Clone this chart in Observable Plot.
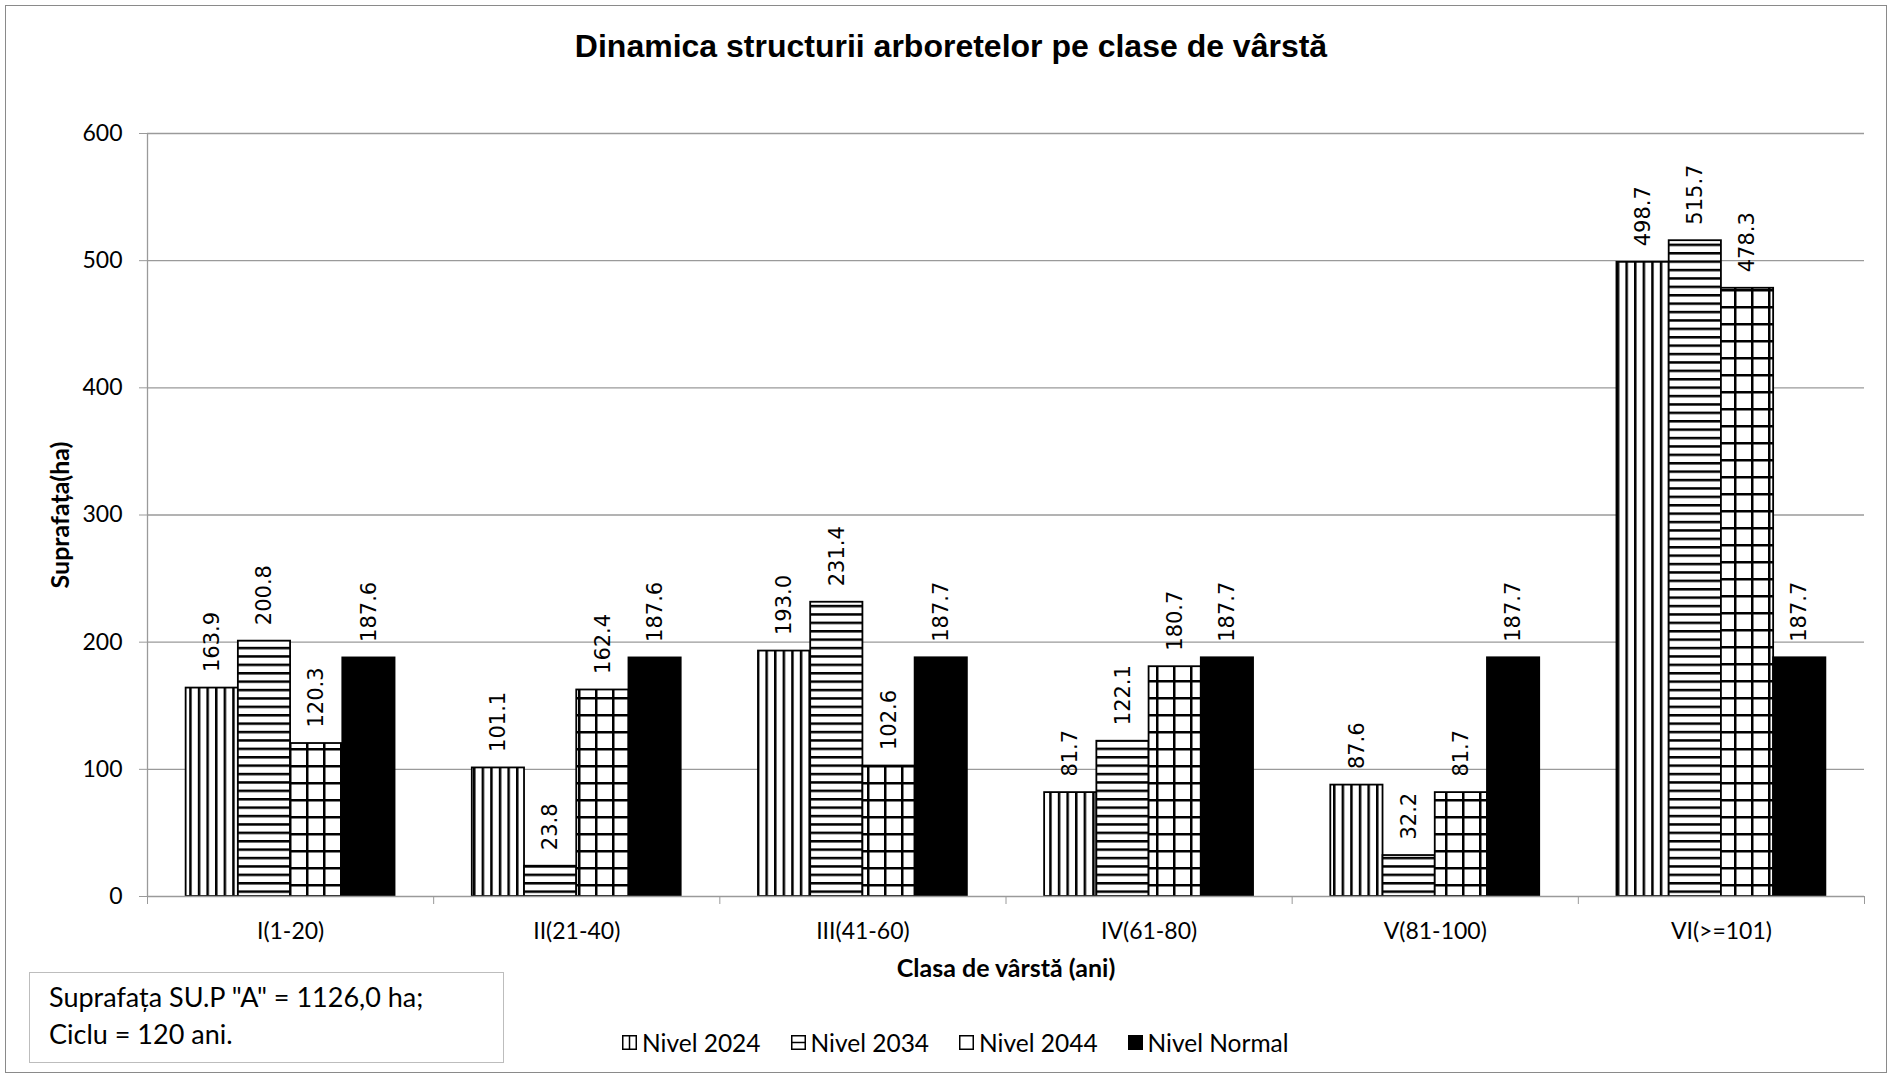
<!DOCTYPE html>
<html>
<head>
<meta charset="utf-8">
<script src="https://cdn.jsdelivr.net/npm/d3@7"></script>
<script src="https://cdn.jsdelivr.net/npm/@observablehq/plot@0.6"></script>
<style>
  body { margin: 0; background: #fff; }
  #page { position: relative; width: 1894px; height: 1079px; overflow: hidden; font-family: Lato, "Open Sans", sans-serif; color: #000; }
  #frame { position: absolute; left: 5px; top: 5px; width: 1880px; height: 1066px; border: 1.5px solid #8a8a8a; }
  #title { position: absolute; left: 4px; width: 1894px; top: 30px; text-align: center; font: bold 32px/32px "Liberation Sans Narrow", "Liberation Sans", Arial, sans-serif; }
  #chart { position: absolute; left: 0; top: 0; }
  #note { position: absolute; left: 29px; top: 972px; width: 475px; height: 91px; border: 1.5px solid #bdbdbd; box-sizing: border-box; padding: 5px 0 0 19px; font-size: 27px; line-height: 37px; background: #fff; }
  #legend { position: absolute; left: 622px; top: 1030px; display: flex; align-items: center; gap: 30px; font-size: 24.5px; line-height: 25px; }
  #legend .item { display: flex; align-items: center; gap: 5px; }
  #legend svg { display: block; }
</style>
</head>
<body>
<div id="page">
  <div id="frame"></div>
  <div id="title">Dinamica structurii arboretelor pe clase de vârstă</div>
  <div id="chart"></div>
  <div id="note">Suprafața SU.P "A" = 1126,0 ha;<br>Ciclu = 120 ani.</div>
  <div id="legend"></div>
</div>
<script>
const categories = ["I(1-20)", "II(21-40)", "III(41-60)", "IV(61-80)", "V(81-100)", "VI(>=101)"];
const seriesNames = ["Nivel 2024", "Nivel 2034", "Nivel 2044", "Nivel Normal"];
const nivel2024 = [163.9, 101.1, 193.0, 81.7, 87.6, 498.7];
const nivel2034 = [200.8, 23.8, 231.4, 122.1, 32.2, 515.7];
const nivel2044 = [120.3, 162.4, 102.6, 180.7, 81.7, 478.3];
const nivelNormal = [187.6, 187.6, 187.7, 187.7, 187.7, 187.7];
const yTicks = [0, 100, 200, 300, 400, 500, 600];
const seriesFills = ["url(#p2024)", "url(#p2034)", "url(#p2044)", "black"];

const seriesValues = [nivel2024, nivel2034, nivel2044, nivelNormal];
const groupPad = 0.135;
const barW = (1 - 2 * groupPad) / seriesNames.length;
const rows = [];
seriesValues.forEach((vals, j) => {
  vals.forEach((v, i) => {
    rows.push({
      category: categories[i], ci: i, series: seriesNames[j], sj: j, value: v,
      x1: i + groupPad + j * barW, x2: i + groupPad + (j + 1) * barW
    });
  });
});

const gray = "#9a9a9a";
const chart = Plot.plot({
  width: 1894,
  height: 1000,
  marginTop: 133,
  marginBottom: 104,
  marginLeft: 147,
  marginRight: 30,
  x: { domain: [0, categories.length] },
  y: { domain: [0, 600] },
  style: { fontFamily: "Lato, sans-serif", background: "transparent", color: "black" },
  marks: [
    Plot.ruleY(yTicks.filter(d => d > 0), { stroke: gray, strokeWidth: 1.3 }),
    ...seriesFills.map((f, j) => Plot.rectY(rows.filter(r => r.sj === j), {
      x1: "x1", x2: "x2", y: "value", fill: f, stroke: "black", strokeWidth: 1.8
    })),
    Plot.ruleY([0], { stroke: gray, strokeWidth: 1.3 }),
    Plot.ruleX([0], { stroke: gray, strokeWidth: 1.3 }),
    Plot.axisY({ ticks: yTicks, tickSize: 8, tickPadding: 17, stroke: gray, fill: "black", fontSize: 23, label: null }),
    Plot.axisX({ ticks: d3.range(categories.length + 1), tickSize: 8, tickFormat: () => "", stroke: gray, label: null }),
    Plot.axisX({ ticks: categories.map((c, i) => i + 0.5), tickSize: 0, tickPadding: 26,
      tickFormat: v => categories[Math.floor(v)], fontSize: 23, fill: "black", label: null }),
    Plot.text(rows, {
      x: d => (d.x1 + d.x2) / 2, y: "value", text: d => d.value.toFixed(1),
      rotate: -90, textAnchor: "start", dy: -16, fontSize: 21, fontFamily: "DejaVu Sans", fill: "black"
    }),
    Plot.text(["Suprafața(ha)"], { text: d => d, frameAnchor: "left", textAnchor: "middle", dx: -87, rotate: -90, fontWeight: "bold", fontSize: 25, fill: "black" }),
    Plot.text(["Clasa de vârstă (ani)"], { text: d => d, frameAnchor: "bottom", dy: 80, fontWeight: "bold", fontSize: 25, fill: "black" })
  ]
});

// hatch patterns
const defs = d3.select(chart).insert("defs", ":first-child");
const pv = defs.append("pattern").attr("id", "p2024").attr("patternUnits", "userSpaceOnUse").attr("width", 8.6).attr("height", 8.6);
pv.append("rect").attr("width", 8.6).attr("height", 8.6).attr("fill", "white");
pv.append("rect").attr("width", 2.5).attr("height", 8.6).attr("fill", "black");
const ph = defs.append("pattern").attr("id", "p2034").attr("patternUnits", "userSpaceOnUse").attr("width", 8.4).attr("height", 8.4);
ph.append("rect").attr("width", 8.4).attr("height", 8.4).attr("fill", "white");
ph.append("rect").attr("width", 8.4).attr("height", 2.5).attr("fill", "black");
const pg = defs.append("pattern").attr("id", "p2044").attr("patternUnits", "userSpaceOnUse").attr("width", 17).attr("height", 17);
pg.append("rect").attr("width", 17).attr("height", 17).attr("fill", "white");
pg.append("rect").attr("width", 2.5).attr("height", 17).attr("fill", "black");
pg.append("rect").attr("width", 17).attr("height", 2.5).attr("fill", "black");

document.getElementById("chart").appendChild(chart);

// legend
const legend = d3.select("#legend");
seriesNames.forEach((name, j) => {
  const item = legend.append("div").attr("class", "item");
  const s = item.append("svg").attr("width", 15).attr("height", 15);
  s.append("rect").attr("x", 0.75).attr("y", 0.75).attr("width", 13.5).attr("height", 13.5)
    .attr("fill", j === 3 ? "black" : "white").attr("stroke", "black").attr("stroke-width", 1.5);
  if (j === 0) s.append("line").attr("x1", 7.5).attr("x2", 7.5).attr("y1", 1).attr("y2", 14).attr("stroke", "black").attr("stroke-width", 1.5);
  if (j === 1) s.append("line").attr("x1", 1).attr("x2", 14).attr("y1", 7.5).attr("y2", 7.5).attr("stroke", "black").attr("stroke-width", 1.5);
  item.append("span").text(name);
});
</script>
</body>
</html>
